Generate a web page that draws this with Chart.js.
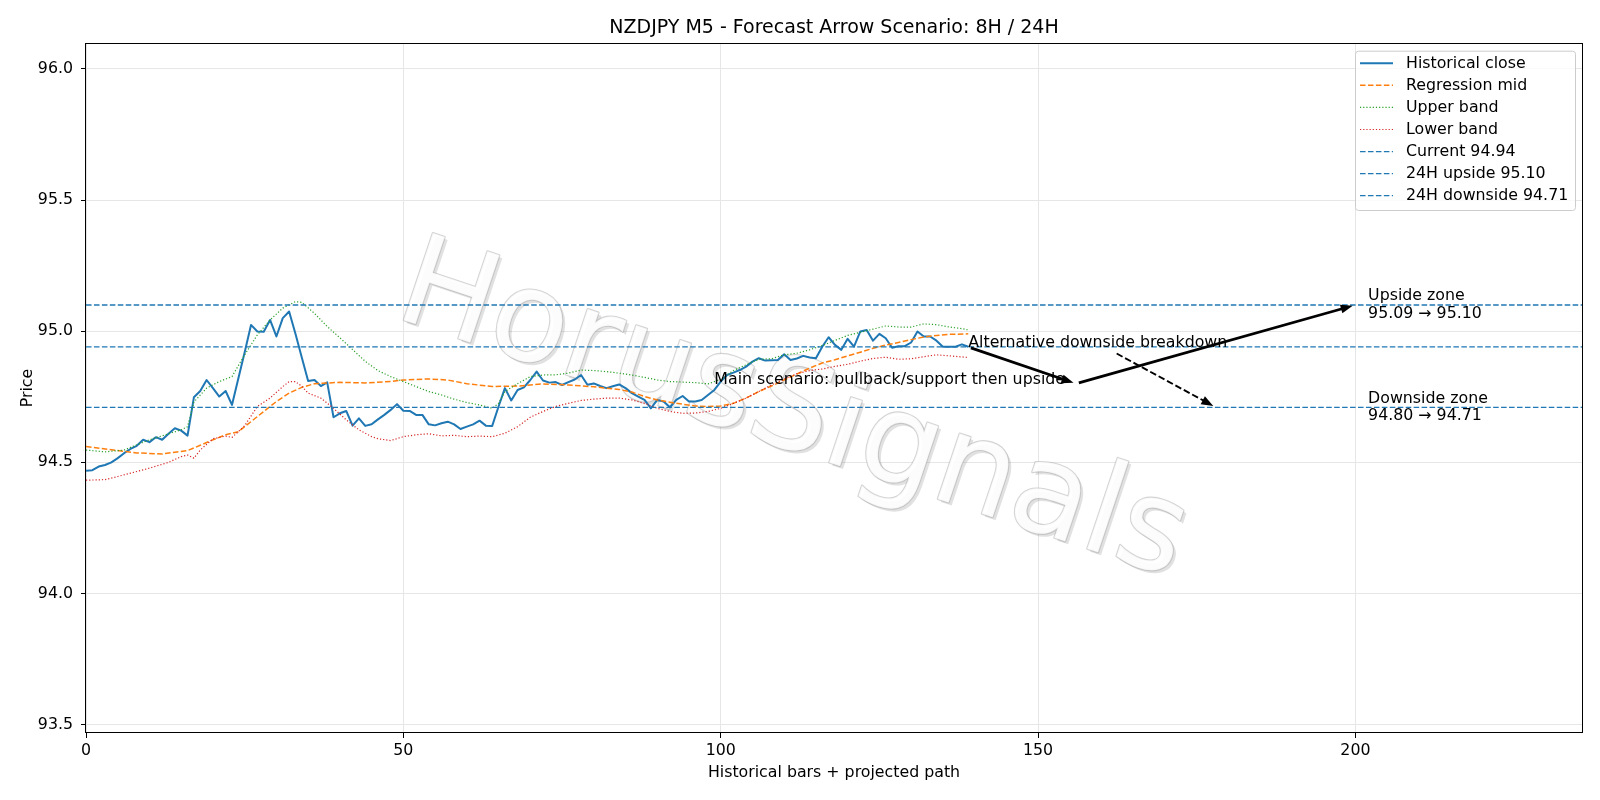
<!DOCTYPE html>
<html><head><meta charset="utf-8">
<script src="https://cdn.jsdelivr.net/npm/chart.js@4.4.1/dist/chart.umd.min.js"></script>
<style>html,body{margin:0;padding:0;background:#fff;} #wrap{width:1600px;height:800px;}</style>
</head><body><div id="wrap"><canvas id="c" width="1600" height="800"></canvas></div>
<script>
const TITLE = 'NZDJPY M5 - Forecast Arrow Scenario: 8H / 24H';
const X_LABEL = 'Historical bars + projected path';
const Y_LABEL = 'Price';
const X_MIN = 0, X_MAX = 235.7;
const Y_MIN = 93.468, Y_MAX = 96.099;
const X_TICKS = [0, 50, 100, 150, 200];
const Y_TICKS = [93.5, 94.0, 94.5, 95.0, 95.5, 96.0];

const CLOSE = [
 94.468,94.470,94.484,94.490,94.500,94.516,94.535,94.551,94.563,94.586,
 94.577,94.596,94.586,94.609,94.630,94.621,94.602,94.748,94.772,94.814,
 94.783,94.751,94.772,94.719,94.820,94.920,95.024,94.999,94.998,95.043,
 94.980,95.050,95.075,94.990,94.900,94.810,94.814,94.791,94.805,94.672,
 94.687,94.696,94.640,94.668,94.639,94.645,94.664,94.681,94.700,94.722,
 94.697,94.696,94.681,94.681,94.645,94.641,94.649,94.655,94.645,94.627,
 94.636,94.645,94.659,94.640,94.639,94.713,94.783,94.736,94.776,94.786,
 94.814,94.846,94.812,94.804,94.806,94.795,94.806,94.816,94.833,94.796,
 94.801,94.791,94.783,94.790,94.797,94.783,94.764,94.751,94.738,94.706,
 94.738,94.732,94.710,94.738,94.753,94.732,94.732,94.738,94.757,94.776,
 94.808,94.833,94.842,94.852,94.865,94.884,94.897,94.888,94.889,94.890,
 94.912,94.890,94.896,94.906,94.900,94.897,94.941,94.977,94.948,94.929,
 94.971,94.941,94.999,95.005,94.964,94.990,94.973,94.937,94.943,94.943,
 94.957,94.999,94.980,94.980,94.964,94.941,94.941,94.941,94.950,94.941
];

const MID_X = [0,4,8,12,16,18,20,22,24,26,28,30,32,34,36,40,44,48,50,54,57,60,64,68,72,76,80,84,86,88,90,93,96,98,100,102,104,106,108,110,112,114,116,118,120,122,124,126,128,130,132,134,136,139];
const MID_Y = [94.560,94.548,94.536,94.532,94.545,94.565,94.586,94.605,94.617,94.655,94.694,94.732,94.764,94.786,94.800,94.805,94.803,94.808,94.814,94.818,94.814,94.800,94.789,94.791,94.799,94.795,94.788,94.778,94.768,94.751,94.738,94.725,94.715,94.713,94.715,94.725,94.745,94.770,94.791,94.814,94.837,94.859,94.879,94.891,94.906,94.920,94.935,94.947,94.957,94.968,94.978,94.984,94.988,94.990];

const UPPER_X = [0,3,6,8,10,13,15,16,17,19,21,23,25,27,29,31,33,34,36,38,40,42,44,46,48,50,52,54,56,58,60,62,64,65,66,68,70,72,74,76,78,80,82,84,86,88,90,92,94,96,98,100,102,104,106,108,110,112,114,116,118,120,122,124,126,128,130,132,134,136,138,139];
const UPPER_Y = [94.547,94.540,94.547,94.567,94.586,94.609,94.624,94.636,94.730,94.783,94.808,94.827,94.910,94.986,95.043,95.088,95.113,95.110,95.068,95.018,94.975,94.930,94.885,94.850,94.827,94.808,94.789,94.770,94.757,94.741,94.728,94.719,94.706,94.725,94.770,94.800,94.827,94.833,94.834,94.840,94.852,94.850,94.846,94.840,94.833,94.824,94.814,94.808,94.806,94.804,94.799,94.817,94.850,94.872,94.893,94.895,94.910,94.916,94.929,94.945,94.965,94.984,94.996,95.008,95.020,95.016,95.016,95.028,95.025,95.016,95.010,95.005];

const LOWER_X = [0,3,5,8,10,13,15,16,17,18,20,22,23,24,25,27,29,31,32,33,34,35,37,39,41,43,45,46,48,50,52,54,56,58,60,62,64,66,68,70,72,74,76,78,80,82,84,86,88,90,92,94,96,98,100,102,104,106,108,110,112,114,116,118,120,122,124,126,128,130,132,134,136,138,139];
const LOWER_Y = [94.432,94.434,94.446,94.465,94.478,94.500,94.522,94.528,94.516,94.547,94.590,94.600,94.595,94.617,94.640,94.713,94.745,94.789,94.808,94.808,94.790,94.764,94.745,94.706,94.662,94.624,94.598,94.590,94.583,94.598,94.605,94.609,94.601,94.603,94.598,94.600,94.598,94.611,94.636,94.672,94.694,94.713,94.725,94.736,94.741,94.745,94.745,94.738,94.725,94.706,94.694,94.687,94.688,94.694,94.706,94.725,94.745,94.770,94.795,94.818,94.838,94.850,94.856,94.866,94.874,94.886,94.896,94.901,94.893,94.895,94.903,94.910,94.906,94.902,94.900];

const LEVEL_NAMES = ['Current 94.94', '24H upside 95.10', '24H downside 94.71'];
const LEVEL_VALUES = [94.94, 95.10, 94.71];

const MAIN_PATH_X = [139, 156, 200];
const MAIN_PATH_Y = [94.94, 94.80, 95.10];
const ALT_PATH_X = [162, 178];
const ALT_PATH_Y = [94.92, 94.71];

const NOTE_TEXTS = ['Main scenario: pullback/support then upside', 'Alternative downside breakdown'];
const NOTE_X = [99, 139];
const NOTE_Y = [94.80, 94.94];

const ZONE_TEXTS = [['Upside zone', '95.09 \u2192 95.10'], ['Downside zone', '94.80 \u2192 94.71']];
const ZONE_X = [202, 202];
const ZONE_Y = [95.10, 94.71];

const WATERMARK = 'HorusSignals';

const FONT = '"DejaVu Sans", "Liberation Sans", sans-serif';
const FS = 15.8, FS_TITLE = 19;
const pts = (xs, ys) => xs.map((x, i) => ({x: x, y: ys[i]}));

const datasets = [
  {label: 'Historical close', data: CLOSE.map((v, i) => ({x: i, y: v})), borderColor: '#1f77b4', borderWidth: 2, borderDash: [], order: 7},
  {label: 'Regression mid', data: pts(MID_X, MID_Y), borderColor: '#ff7f0e', borderWidth: 1.5, borderDash: [5.55, 2.4], order: 6},
  {label: 'Upper band', data: pts(UPPER_X, UPPER_Y), borderColor: '#2ca02c', borderWidth: 1.2, borderDash: [1.2, 1.98], order: 5},
  {label: 'Lower band', data: pts(LOWER_X, LOWER_Y), borderColor: '#d62728', borderWidth: 1.2, borderDash: [1.2, 1.98], order: 4},
];
LEVEL_VALUES.forEach((v, k) => {
  datasets.push({label: LEVEL_NAMES[k], data: [{x: X_MIN, y: v}, {x: X_MAX, y: v}], borderColor: '#1f77b4', borderWidth: 1.3, borderDash: [5.55, 2.4], order: 3 - k});
});
datasets.forEach(d => { d.pointRadius = 0; d.fill = false; d.tension = 0; d.borderCapStyle = 'butt'; d.borderJoinStyle = 'round'; });

const watermarkPlugin = {
  id: 'wm',
  beforeDatasetsDraw(chart) {
    const {ctx, chartArea: a} = chart;
    const cx = a.left + 0.472 * (a.right - a.left), cy = a.top + 0.54 * (a.bottom - a.top);
    const ang = 18.5 * Math.PI / 180;
    ctx.save();
    ctx.beginPath(); ctx.rect(a.left, a.top, a.right - a.left, a.bottom - a.top); ctx.clip();
    ctx.font = '126px ' + FONT; ctx.textAlign = 'center'; ctx.textBaseline = 'middle';
    ctx.save(); ctx.translate(cx + 3, cy + 3); ctx.rotate(ang);
    ctx.fillStyle = 'rgba(120,120,120,0.22)'; ctx.fillText(WATERMARK, 0, 0);
    ctx.restore();
    ctx.save(); ctx.translate(cx, cy); ctx.rotate(ang);
    ctx.lineWidth = 2.2; ctx.strokeStyle = 'rgba(170,170,170,0.5)'; ctx.lineJoin = 'round';
    ctx.strokeText(WATERMARK, 0, 0);
    ctx.fillStyle = 'rgba(255,255,255,0.9)'; ctx.fillText(WATERMARK, 0, 0);
    ctx.restore();
    ctx.restore();
  }
};

function drawArrow(ctx, x1, y1, x2, y2, lw, dash) {
  const dx = x2 - x1, dy = y2 - y1, L = Math.hypot(dx, dy), ux = dx / L, uy = dy / L;
  const shrink = 2.8, headL = 12, headW = 9;
  const sx = x1 + ux * shrink, sy = y1 + uy * shrink, ex = x2 - ux * shrink, ey = y2 - uy * shrink;
  const bx = ex - ux * headL, by = ey - uy * headL;
  ctx.save();
  ctx.strokeStyle = '#000'; ctx.fillStyle = '#000'; ctx.lineWidth = lw; ctx.setLineDash(dash);
  ctx.beginPath(); ctx.moveTo(sx, sy); ctx.lineTo(bx + ux, by + uy); ctx.stroke();
  ctx.setLineDash([]);
  ctx.beginPath(); ctx.moveTo(ex, ey);
  ctx.lineTo(bx - uy * headW / 2, by + ux * headW / 2);
  ctx.lineTo(bx + uy * headW / 2, by - ux * headW / 2);
  ctx.closePath(); ctx.fill();
  ctx.restore();
}

const annotPlugin = {
  id: 'annot',
  afterDatasetsDraw(chart) {
    const {ctx, scales: {x, y}} = chart;
    for (let i = 0; i < MAIN_PATH_X.length - 1; i++) {
      drawArrow(ctx, x.getPixelForValue(MAIN_PATH_X[i]), y.getPixelForValue(MAIN_PATH_Y[i]),
        x.getPixelForValue(MAIN_PATH_X[i + 1]), y.getPixelForValue(MAIN_PATH_Y[i + 1]), 2.8, []);
    }
    drawArrow(ctx, x.getPixelForValue(ALT_PATH_X[0]), y.getPixelForValue(ALT_PATH_Y[0]),
      x.getPixelForValue(ALT_PATH_X[1]), y.getPixelForValue(ALT_PATH_Y[1]), 1.9, [6.66, 2.88]);
    ctx.save();
    ctx.fillStyle = '#000'; ctx.font = FS + 'px ' + FONT; ctx.textAlign = 'left';
    ctx.textBaseline = 'alphabetic';
    NOTE_TEXTS.forEach((t, k) => ctx.fillText(t, x.getPixelForValue(NOTE_X[k]), y.getPixelForValue(NOTE_Y[k])));
    ctx.textBaseline = 'middle';
    ZONE_TEXTS.forEach((lines, k) => {
      const px = x.getPixelForValue(ZONE_X[k]), py = y.getPixelForValue(ZONE_Y[k]);
      ctx.fillText(lines[0], px, py - 8.6);
      ctx.fillText(lines[1], px, py + 8.6);
    });
    ctx.restore();
  }
};

const framePlugin = {
  id: 'frame',
  afterDraw(chart) {
    const {ctx, chartArea: a} = chart;
    ctx.save();
    ctx.strokeStyle = '#000'; ctx.lineWidth = 1;
    ctx.strokeRect(Math.round(a.left) - 0.5, Math.round(a.top) + 0.5, Math.round(a.right - a.left) + 1, Math.round(a.bottom - a.top) - 1);
    ctx.fillStyle = '#000';
    ctx.font = FS_TITLE + 'px ' + FONT; ctx.textAlign = 'center'; ctx.textBaseline = 'alphabetic';
    const mx = (a.left + a.right) / 2;
    ctx.fillText(TITLE, mx, 33.3);
    ctx.font = FS + 'px ' + FONT;
    ctx.fillText(X_LABEL, mx, 776.5);
    ctx.save(); ctx.translate(32.3, (a.top + a.bottom) / 2); ctx.rotate(-Math.PI / 2);
    ctx.fillText(Y_LABEL, 0, 0); ctx.restore();
    const ds = chart.data.datasets;
    const lx0 = 1355, ly0 = 50.7, lw = 220, lh = 159.3;
    ctx.beginPath();
    if (ctx.roundRect) ctx.roundRect(lx0 + 0.5, ly0 + 0.5, lw, lh, 3); else ctx.rect(lx0 + 0.5, ly0 + 0.5, lw, lh);
    ctx.fillStyle = 'rgba(255,255,255,0.8)'; ctx.fill();
    ctx.strokeStyle = '#cccccc'; ctx.lineWidth = 1; ctx.stroke();
    ctx.textAlign = 'left'; ctx.textBaseline = 'middle'; ctx.font = FS + 'px ' + FONT;
    ds.forEach((d, k) => {
      const ry = 63.3 + k * 22.07;
      ctx.save();
      ctx.strokeStyle = d.borderColor; ctx.lineWidth = d.borderWidth; ctx.setLineDash(d.borderDash || []);
      ctx.lineCap = 'butt';
      ctx.beginPath(); ctx.moveTo(1360, ry); ctx.lineTo(1393, ry); ctx.stroke();
      ctx.restore();
      ctx.fillStyle = '#000';
      ctx.fillText(d.label, 1406, ry + 0.5);
    });
    ctx.restore();
  }
};

Chart.defaults.font.family = FONT;
Chart.defaults.font.size = FS;
Chart.defaults.color = '#000';

new Chart(document.getElementById('c'), {
  type: 'line',
  data: {datasets: datasets},
  options: {
    responsive: false,
    animation: false,
    devicePixelRatio: 1,
    layout: {padding: {top: 43, right: 18, bottom: 0, left: 0}},
    plugins: {legend: {display: false}, title: {display: false}, tooltip: {enabled: false}},
    elements: {line: {tension: 0}},
    scales: {
      x: {
        type: 'linear', min: X_MIN, max: X_MAX,
        afterBuildTicks: s => { s.ticks = X_TICKS.map(v => ({value: v})); },
        afterFit: s => { s.height = 67; },
        ticks: {callback: v => String(v), padding: 3, maxRotation: 0, autoSkip: false, font: {size: FS}},
        grid: {color: '#e6e6e6', lineWidth: 1, tickLength: 5, tickColor: '#000', drawTicks: true},
        border: {display: false}
      },
      y: {
        type: 'linear', min: Y_MIN, max: Y_MAX,
        afterBuildTicks: s => { s.ticks = Y_TICKS.map(v => ({value: v})); },
        afterFit: s => { s.width = 86; },
        ticks: {callback: v => Number(v).toFixed(1), padding: 8, autoSkip: false, font: {size: FS}},
        grid: {color: '#e6e6e6', lineWidth: 1, tickLength: 5, tickColor: '#000', drawTicks: true},
        border: {display: false}
      }
    }
  },
  plugins: [watermarkPlugin, annotPlugin, framePlugin]
});
</script>
</body></html>
